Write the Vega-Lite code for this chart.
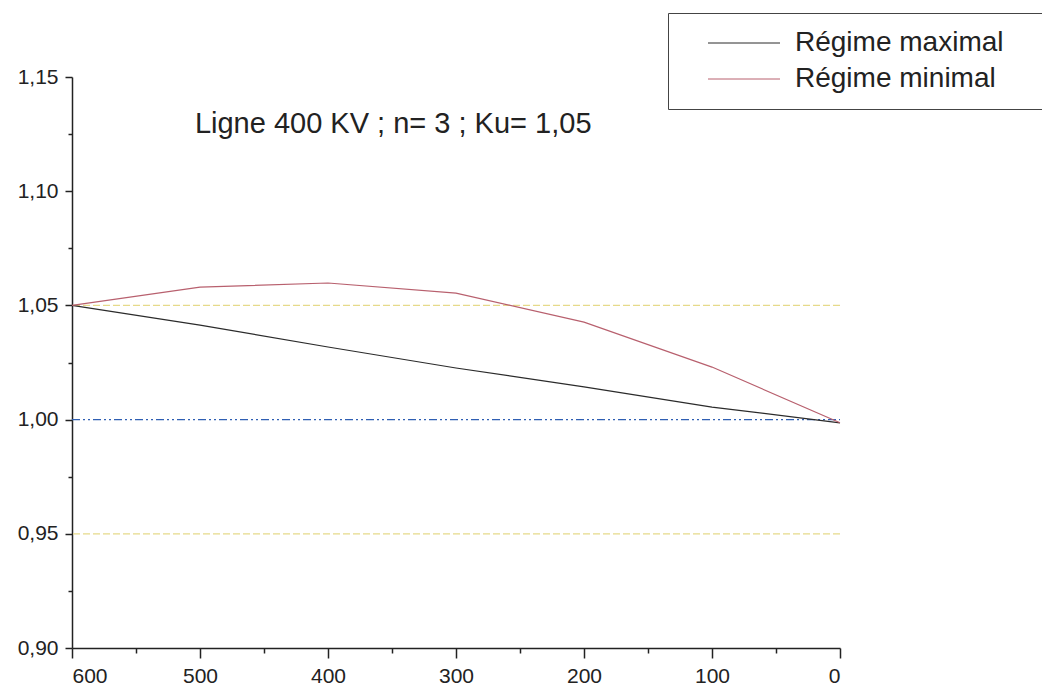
{
  "$schema": "https://vega.github.io/schema/vega-lite/v6.json",
  "width": 768,
  "height": 571,
  "autosize": {"type": "none"},
  "padding": {"left": 72, "top": 77, "right": 202, "bottom": 45},
  "background": "white",
  "config": {
    "view": {"stroke": null},
    "font": "Liberation Sans",
    "axis": {
      "grid": false,
      "domainColor": "#222222",
      "tickColor": "#222222",
      "labelColor": "#222222",
      "labelFont": "Liberation Sans",
      "labelFontSize": 21,
      "domainWidth": 1.5,
      "tickWidth": 1.5,
      "title": null
    }
  },
  "resolve": {"axis": {"x": "independent", "y": "independent"}},
  "layer": [
    {
      "data": {"values": [{"U": 1.05}, {"U": 0.95}]},
      "mark": {"type": "rule", "color": "#e6da8a", "strokeWidth": 1.2, "strokeDash": [7, 3]},
      "encoding": {
        "y": {
          "field": "U", "type": "quantitative",
          "scale": {"domain": [0.9, 1.15], "nice": false, "zero": false},
          "axis": {"orient": "left", "values": [0.925, 0.975, 1.025, 1.075, 1.125], "labels": false, "domain": false, "tickSize": 4}
        }
      }
    },
    {
      "data": {"values": [{"U": 1.0, "Lstart": 600, "Lend": 0}]},
      "mark": {"type": "rule", "color": "#2f5fb3", "strokeWidth": 1.3, "strokeDash": [8, 3, 2, 3, 2, 3]},
      "encoding": {
        "x": {
          "field": "Lstart", "type": "quantitative",
          "scale": {"domain": [0, 600], "reverse": true, "nice": false, "zero": false},
          "axis": {"orient": "bottom", "values": [50, 150, 250, 350, 450, 550], "labels": false, "domain": false, "tickSize": 5}
        },
        "x2": {"field": "Lend"},
        "y": {"field": "U", "type": "quantitative", "scale": {"domain": [0.9, 1.15], "nice": false, "zero": false}, "axis": null}
      }
    },
    {
      "data": {
        "values": [
          {"L": 600, "U": 1.05, "regime": "Régime maximal"},
          {"L": 500, "U": 1.0414, "regime": "Régime maximal"},
          {"L": 400, "U": 1.0318, "regime": "Régime maximal"},
          {"L": 300, "U": 1.0226, "regime": "Régime maximal"},
          {"L": 200, "U": 1.0143, "regime": "Régime maximal"},
          {"L": 100, "U": 1.0055, "regime": "Régime maximal"},
          {"L": 0, "U": 0.9986, "regime": "Régime maximal"},
          {"L": 600, "U": 1.05, "regime": "Régime minimal"},
          {"L": 500, "U": 1.058, "regime": "Régime minimal"},
          {"L": 400, "U": 1.0598, "regime": "Régime minimal"},
          {"L": 300, "U": 1.0554, "regime": "Régime minimal"},
          {"L": 200, "U": 1.0427, "regime": "Régime minimal"},
          {"L": 100, "U": 1.023, "regime": "Régime minimal"},
          {"L": 0, "U": 0.9986, "regime": "Régime minimal"}
        ]
      },
      "mark": {"type": "line", "strokeWidth": 1.2},
      "encoding": {
        "x": {
          "field": "L", "type": "quantitative",
          "scale": {"domain": [0, 600], "reverse": true, "nice": false, "zero": false},
          "axis": {"orient": "bottom", "values": [0, 100, 200, 300, 400, 500, 600], "format": "d", "tickSize": 10, "labelPadding": 7}
        },
        "y": {
          "field": "U", "type": "quantitative",
          "scale": {"domain": [0.9, 1.15], "nice": false, "zero": false},
          "axis": {"orient": "left", "values": [0.9, 0.95, 1.0, 1.05, 1.1, 1.15], "tickSize": 7, "labelPadding": 7,
                   "labelExpr": "replace(format(datum.value, '.2f'), '.', ',')"}
        },
        "color": {
          "field": "regime", "type": "nominal",
          "scale": {"domain": ["Régime maximal", "Régime minimal"], "range": ["#2b2b2b", "#b8606e"]},
          "legend": {
            "orient": "none",
            "legendX": 596,
            "legendY": -64,
            "title": null,
            "symbolType": "M-3,0H3",
            "symbolSize": 576,
            "symbolStrokeWidth": 1,
            "symbolOffset": 46,
            "labelFont": "Liberation Sans",
            "labelFontSize": 28,
            "labelColor": "#222222",
            "labelOffset": 37,
            "labelLimit": 500,
            "rowPadding": 8,
            "padding": 16,
            "strokeColor": "#444444",
            "labelExpr": "datum.label + '\u2003\u2060'"
          }
        }
      }
    },
    {
      "data": {"values": [{}]},
      "mark": {"type": "text", "align": "left", "baseline": "alphabetic", "font": "Liberation Sans", "fontSize": 29, "color": "#222222"},
      "encoding": {
        "x": {"datum": 504, "type": "quantitative", "scale": {"domain": [0, 600], "reverse": true, "nice": false, "zero": false}, "axis": null},
        "y": {"datum": 1.1255, "type": "quantitative", "scale": {"domain": [0.9, 1.15], "nice": false, "zero": false}, "axis": null},
        "text": {"value": "Ligne 400 KV ; n= 3 ; Ku= 1,05"}
      }
    }
  ]
}
